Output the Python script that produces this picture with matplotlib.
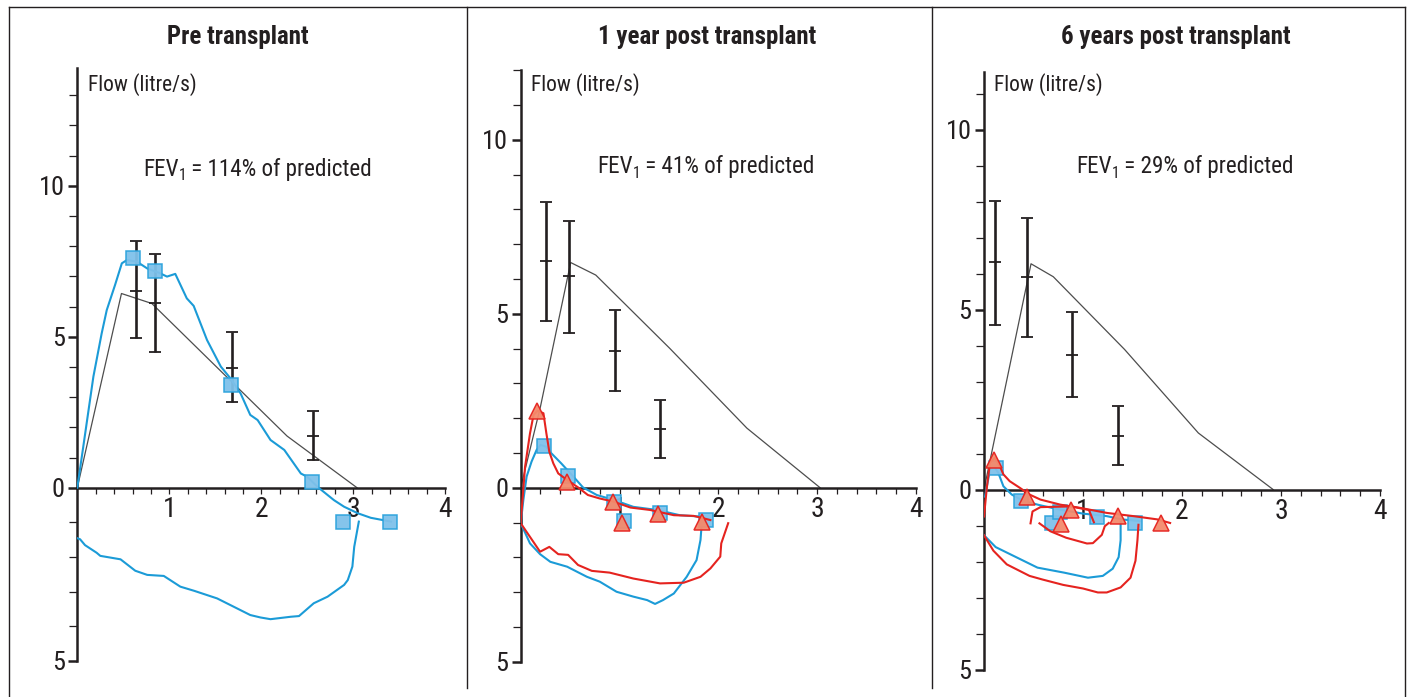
import os
import numpy as np
import matplotlib
matplotlib.use("Agg")
import matplotlib.pyplot as plt
from matplotlib import font_manager
from matplotlib.font_manager import FontProperties
from matplotlib.lines import Line2D
from matplotlib.ticker import FixedLocator

# ---------------- data ----------------
titles = ["Pre transplant", "1 year post transplant", "6 years post transplant"]
fev1_pct = [114, 41, 29]
x_tick_labels = ["1", "2", "3", "4"]
y_tick_values = [-5, 0, 5, 10]
y_tick_labels = ["5", "0", "5", "10"]

# Panel 1 (pre transplant)
p1_pred_vol = [0, 0.48, 0.81, 2.28, 3.04]
p1_pred_flow = [0, 6.43, 6.10, 1.71, 0.0]
p1_err_vol = [0.64, 0.84, 1.68, 2.56]
p1_err_mid = [6.52, 6.13, 3.96, 1.71]
p1_err_low = [4.96, 4.49, 2.85, 0.92]
p1_err_high = [8.18, 7.74, 5.15, 2.55]
p1_blue_exp_vol = [0, 0.065, 0.175, 0.265, 0.32, 0.41, 0.484, 0.54, 0.65, 0.76, 0.90, 0.975,
                   1.065, 1.19, 1.265, 1.41, 1.56, 1.665, 1.775, 1.88, 1.96, 2.10, 2.25, 2.43,
                   2.50, 2.61, 2.79, 2.90, 3.05, 3.19, 3.41]
p1_blue_exp_flow = [0, 1.36, 3.68, 5.11, 5.88, 6.71, 7.43, 7.54, 7.48, 7.26, 7.10, 6.99,
                    7.08, 6.27, 6.02, 4.89, 4.01, 3.62, 3.12, 2.41, 2.24, 1.58, 1.25, 0.47,
                    0.36, 0.03, -0.36, -0.55, -0.74, -0.87, -0.98]
p1_blue_insp_vol = [3.06, 3.01, 2.99, 2.94, 2.90, 2.72, 2.57, 2.41, 2.32, 2.10, 1.99, 1.88,
                    1.70, 1.52, 1.27, 1.12, 0.94, 0.76, 0.63, 0.47, 0.25, 0.21, 0.084, 0.03, 0]
p1_blue_insp_flow = [-0.98, -1.71, -2.28, -2.67, -2.81, -3.15, -3.34, -3.71, -3.73, -3.80,
                     -3.75, -3.68, -3.44, -3.20, -2.98, -2.86, -2.55, -2.52, -2.40, -2.07,
                     -1.97, -1.88, -1.66, -1.49, -1.46]
p1_sq_vol = [0.60, 0.84, 1.67, 2.55, 2.89, 3.40]
p1_sq_flow = [7.59, 7.19, 3.41, 0.18, -0.98, -0.98]

# Panel 2 (1 year post transplant)
p2_pred_vol = [0, 0.20, 0.506, 0.76, 1.51, 2.29, 3.03]
p2_pred_flow = [0, 2.33, 6.47, 6.11, 4.0, 1.71, 0]
p2_err_vol = [0.253, 0.49, 0.955, 1.413]
p2_err_mid = [6.51, 6.09, 3.94, 1.69]
p2_err_low = [4.79, 4.45, 2.78, 0.86]
p2_err_high = [8.21, 7.67, 5.10, 2.51]
p2_blue_exp_vol = [0, 0.027, 0.06, 0.11, 0.16, 0.20, 0.256, 0.31, 0.41, 0.52, 0.63, 0.77,
                   0.94, 1.14, 1.38, 1.61, 1.82, 1.92]
p2_blue_exp_flow = [-1.02, -0.35, 0.32, 0.75, 1.08, 1.23, 1.18, 0.99, 0.70, 0.36, 0.01, -0.21,
                    -0.35, -0.55, -0.64, -0.79, -0.83, -0.93]
p2_blue_insp_vol = [1.83, 1.82, 1.78, 1.68, 1.55, 1.44, 1.36, 1.28, 1.14, 0.97, 0.80, 0.67,
                    0.47, 0.30, 0.196, 0.094, 0]
p2_blue_insp_flow = [-1.12, -1.50, -2.08, -2.56, -3.04, -3.23, -3.34, -3.23, -3.13, -2.99,
                     -2.70, -2.56, -2.27, -2.13, -1.91, -1.60, -1.02]
p2_red_exp_vol = [0, 0.044, 0.094, 0.13, 0.17, 0.23, 0.26, 0.29, 0.33, 0.38, 0.47, 0.58,
                  0.68, 0.80, 0.94, 1.11, 1.31, 1.55, 1.75, 1.92]
p2_red_exp_flow = [-1.02, 0.6, 1.56, 2.09, 2.21, 2.14, 1.56, 1.03, 0.70, 0.41, 0.22, 0.01,
                   -0.21, -0.31, -0.40, -0.57, -0.64, -0.79, -0.81, -0.93]
p2_red_insp_vol = [2.10, 2.03, 2.02, 1.92, 1.82, 1.65, 1.41, 1.14, 0.90, 0.72, 0.58, 0.48,
                   0.38, 0.29, 0.196, 0]
p2_red_insp_flow = [-1.02, -1.60, -1.98, -2.32, -2.56, -2.73, -2.75, -2.61, -2.44, -2.39,
                    -2.22, -1.93, -1.91, -1.70, -1.84, -1.02]
p2_sq_vol = [0.24, 0.48, 0.94, 1.05, 1.41, 1.88]
p2_sq_flow = [1.21, 0.34, -0.40, -0.95, -0.72, -0.93]
p2_tri_vol = [0.17, 0.47, 0.93, 1.03, 1.39, 1.84]
p2_tri_flow = [2.21, 0.17, -0.40, -1.02, -0.76, -0.98]

# Panel 3 (6 years post transplant)
p3_pred_vol = [0, 0.475, 0.70, 1.42, 2.165, 2.92]
p3_pred_flow = [0, 6.27, 5.91, 3.89, 1.57, 0]
p3_err_vol = [0.111, 0.431, 0.892, 1.35]
p3_err_mid = [6.31, 5.90, 3.75, 1.48]
p3_err_low = [4.56, 4.24, 2.56, 0.67]
p3_err_high = [8.01, 7.53, 4.93, 2.33]
p3_blue_exp_vol = [0.01, 0.03, 0.06, 0.10, 0.145, 0.196, 0.28, 0.40, 0.57, 0.77, 1.0, 1.24,
                   1.39, 1.58]
p3_blue_exp_flow = [-0.2, 0.09, 0.56, 0.65, 0.46, 0.09, -0.14, -0.32, -0.44, -0.56, -0.67,
                    -0.74, -0.83, -0.88]
p3_blue_insp_vol = [1.38, 1.38, 1.36, 1.30, 1.20, 1.05, 0.81, 0.54, 0.34, 0.118, 0]
p3_blue_insp_flow = [-0.90, -1.41, -1.88, -2.20, -2.40, -2.45, -2.31, -2.17, -1.90, -1.60,
                     -1.27]
p3_red_exp_vol = [0, 0.03, 0.06, 0.11, 0.16, 0.196, 0.26, 0.36, 0.46, 0.57, 0.77, 0.97,
                  1.24, 1.51, 1.75, 1.88]
p3_red_exp_flow = [-0.75, 0.09, 0.74, 0.88, 0.65, 0.42, 0.23, 0.05, -0.14, -0.28, -0.42,
                   -0.51, -0.65, -0.74, -0.83, -0.93]
p3_red_insp_vol = [1.56, 1.55, 1.53, 1.48, 1.38, 1.24, 1.15, 1.0, 0.80, 0.59, 0.46, 0.23,
                   0.095, 0]
p3_red_insp_flow = [-0.98, -1.41, -1.98, -2.45, -2.72, -2.86, -2.86, -2.75, -2.65, -2.50,
                    -2.40, -2.08, -1.70, -1.27]
p3_red_loopa_vol = [0.47, 0.49, 0.57, 0.88, 1.06, 1.11]
p3_red_loopa_flow = [-0.94, -0.61, -0.49, -0.47, -0.57, -0.91]
p3_red_loopb_vol = [0.56, 0.67, 0.83, 1.04, 1.10, 1.19, 1.22, 1.26]
p3_red_loopb_flow = [-0.94, -1.16, -1.34, -1.50, -1.49, -1.26, -1.02, -0.93]
p3_sq_vol = [0.118, 0.37, 0.69, 0.77, 1.14, 1.53]
p3_sq_flow = [0.60, -0.32, -0.94, -0.63, -0.76, -0.94]
p3_tri_vol = [0.10, 0.43, 0.88, 0.78, 1.35, 1.79]
p3_tri_flow = [0.81, -0.20, -0.56, -0.95, -0.74, -0.94]

# ---------------- fonts ----------------
def find_condensed():
    files = [f.fname for f in font_manager.fontManager.ttflist]
    base = {os.path.basename(p): p for p in files}
    pairs = [
        ("LiberationSansNarrow-Regular", "LiberationSansNarrow-Bold"),
        ("RobotoCondensed-Regular", "RobotoCondensed-Bold"),
        ("NotoSans-Condensed.", "NotoSans-CondensedBold."),
        ("OpenSans-CondRegular", "OpenSans-CondBold"),
        ("DejaVuSansCondensed.", "DejaVuSansCondensed-Bold."),
    ]
    for reg, bold in pairs:
        r = [p for n, p in base.items() if n.startswith(reg)]
        b = [p for n, p in base.items() if n.startswith(bold)]
        if r:
            return r[0], (b[0] if b else r[0])
    return None, None


REG_FILE, BOLD_FILE = find_condensed()


def fp(size, bold=False):
    if REG_FILE:
        return FontProperties(fname=BOLD_FILE if bold else REG_FILE, size=size)
    return FontProperties(family=["Liberation Sans", "DejaVu Sans"],
                          weight="bold" if bold else "normal", size=size)


# ---------------- styling ----------------
W, H = 1412, 697
BLUE = "#1b9bd7"
RED = "#e5231f"
SQ_FACE = "#7fc1ea"
SQ_EDGE = "#2aa2dc"
TRI_FACE = "#f48a6c"
TRI_EDGE = "#e5231f"
GREY = "#4d4d4d"
BLACK = "#231f20"

fig = plt.figure(figsize=(W / 100, H / 100), dpi=100)
renderer = fig.canvas.get_renderer()


def text_width(s, prop):
    t = fig.text(0, 0, s, fontproperties=prop)
    w = t.get_window_extent(renderer=renderer).width
    t.remove()
    return w


# size factor so that the chosen font gets close to the reference text widths
ref_w = text_width("Flow (litre/s)", fp(16))
SCALE = float(np.clip(110.0 / ref_w, 0.80, 1.15))

# panel geometry (pixels): x origin, px/unit x, y origin, px/unit up, px/unit down, ymax
geoms = [
    (77.3, 92.0, 487.7, 30.2, 34.6, 13.9),
    (520.7, 98.8, 487.7, 34.8, 34.8, 12.0),
    (984.0, 99.0, 489.5, 36.0, 36.0, 11.6),
]


def make_axes(x0, xs, y0, up, down, ymax):
    left = x0
    right = x0 + 4 * xs
    top = y0 - ymax * up
    bottom = y0 + 5 * down
    ax = fig.add_axes([left / W, 1 - bottom / H, (right - left) / W, (bottom - top) / H])
    k = down / up
    ax.set_yscale("function",
                  functions=(lambda y: np.where(y >= 0, y, y * k),
                             lambda v: np.where(v >= 0, v, v / k)))
    ax.set_xlim(0, 4)
    ax.set_ylim(-5, ymax)
    ax.patch.set_alpha(0)
    for s in ("top", "right"):
        ax.spines[s].set_visible(False)
    ax.spines["left"].set_linewidth(1.8)
    ax.spines["left"].set_color(BLACK)
    ax.spines["left"].set_bounds(-5, ymax)
    ax.spines["bottom"].set_position(("data", 0))
    ax.spines["bottom"].set_linewidth(1.8)
    ax.spines["bottom"].set_color(BLACK)
    ax.spines["bottom"].set_bounds(0, 4)
    # y ticks
    ax.set_yticks(y_tick_values)
    ax.set_yticklabels(y_tick_labels, fontproperties=fp(19.5 * SCALE))
    minors = [v for v in range(-4, int(np.floor(ymax)) + 1) if v not in y_tick_values]
    ax.yaxis.set_minor_locator(FixedLocator(minors))
    ax.tick_params(axis="y", which="major", direction="out", length=6.5, width=1.8,
                   color=BLACK, pad=2.5, labelcolor=BLACK)
    ax.tick_params(axis="y", which="minor", direction="out", length=6.0, width=0.9,
                   color=BLACK)
    # x ticks
    ax.set_xticks([1, 2, 3, 4])
    ax.set_xticklabels(x_tick_labels, fontproperties=fp(20.5 * SCALE))
    xm = [round(v, 1) for v in np.arange(0.2, 4.01, 0.2) if abs(v - round(v)) > 1e-6]
    ax.xaxis.set_minor_locator(FixedLocator(xm))
    ax.tick_params(axis="x", which="both", direction="out", length=4.5, width=0.9,
                   color=BLACK, pad=1.5, labelcolor=BLACK)
    return ax


def draw_errbars(ax, vol, mid, low, high):
    vol = np.asarray(vol)
    mid = np.asarray(mid)
    yerr = [mid - np.asarray(low), np.asarray(high) - mid]
    ax.errorbar(vol, mid, yerr=yerr, fmt="_", color=BLACK, ecolor=BLACK, elinewidth=1.9,
                capsize=4.0, capthick=1.9, markersize=8, markeredgewidth=1.3, zorder=3)


def squares(ax, v, f):
    ax.plot(v, f, "s", ms=10, mfc=SQ_FACE, mec=SQ_EDGE, mew=1.1, ls="none", zorder=5,
            alpha=0.95)


def triangles(ax, v, f):
    ax.plot(v, f, "^", ms=11, mfc=TRI_FACE, mec=TRI_EDGE, mew=1.1, ls="none", zorder=6,
            alpha=0.95)


axes = [make_axes(*g) for g in geoms]
LW = 1.5

# Panel 1
ax = axes[0]
ax.plot(p1_pred_vol, p1_pred_flow, color=GREY, lw=0.9, zorder=2)
draw_errbars(ax, p1_err_vol, p1_err_mid, p1_err_low, p1_err_high)
ax.plot(p1_blue_exp_vol, p1_blue_exp_flow, color=BLUE, lw=LW, zorder=4)
ax.plot(p1_blue_insp_vol, p1_blue_insp_flow, color=BLUE, lw=LW, zorder=4)
squares(ax, p1_sq_vol, p1_sq_flow)

# Panel 2
ax = axes[1]
ax.plot(p2_pred_vol, p2_pred_flow, color=GREY, lw=0.9, zorder=2)
draw_errbars(ax, p2_err_vol, p2_err_mid, p2_err_low, p2_err_high)
ax.plot(p2_blue_exp_vol, p2_blue_exp_flow, color=BLUE, lw=LW, zorder=4)
ax.plot(p2_blue_insp_vol, p2_blue_insp_flow, color=BLUE, lw=LW, zorder=4)
squares(ax, p2_sq_vol, p2_sq_flow)
ax.plot(p2_red_exp_vol, p2_red_exp_flow, color=RED, lw=LW, zorder=5.5)
ax.plot(p2_red_insp_vol, p2_red_insp_flow, color=RED, lw=LW, zorder=5.5)
triangles(ax, p2_tri_vol, p2_tri_flow)

# Panel 3
ax = axes[2]
ax.plot(p3_pred_vol, p3_pred_flow, color=GREY, lw=0.9, zorder=2)
draw_errbars(ax, p3_err_vol, p3_err_mid, p3_err_low, p3_err_high)
ax.plot(p3_blue_exp_vol, p3_blue_exp_flow, color=BLUE, lw=LW, zorder=4)
ax.plot(p3_blue_insp_vol, p3_blue_insp_flow, color=BLUE, lw=LW, zorder=4)
squares(ax, p3_sq_vol, p3_sq_flow)
for v, f in [(p3_red_exp_vol, p3_red_exp_flow), (p3_red_insp_vol, p3_red_insp_flow),
             (p3_red_loopa_vol, p3_red_loopa_flow), (p3_red_loopb_vol, p3_red_loopb_flow)]:
    ax.plot(v, f, color=RED, lw=LW, zorder=5.5)
triangles(ax, p3_tri_vol, p3_tri_flow)


def ftext(px, py, s, prop, ha="left"):
    return fig.text(px / W, 1 - py / H, s, fontproperties=prop, ha=ha, va="baseline",
                    color=BLACK)


# "Flow (litre/s)" labels (left x, baseline y in pixels)
flow_px = [(88, 90.5), (531, 90.5), (994, 90.5)]
for (px, py) in flow_px:
    ftext(px, py, "Flow (litre/s)", fp(16 * SCALE))

# FEV1 labels with subscript (centre x, baseline y in pixels)
fev_px = [(257.5, 176), (706, 173), (1185, 173)]
for (cx, by), pct in zip(fev_px, fev1_pct):
    main = fp(17.2 * SCALE)
    sub = fp(11.5 * SCALE)
    parts = [("FEV", main, 0), ("1", sub, 4.5), (f" = {pct}% of predicted", main, 0)]
    widths = [text_width(s, p) for s, p, _ in parts]
    x = cx - sum(widths) / 2
    for (s, p, dy), w in zip(parts, widths):
        ftext(x, by + dy, s, p)
        x += w

# Titles (centre x, baseline y in pixels)
title_px = [(238, 44), (707, 44), (1176, 44)]
for (tx, ty), t in zip(title_px, titles):
    ftext(tx, ty, t, fp(18.5 * SCALE, bold=True), ha="center")

# Frame
frame = [((8.5, 7), (8.5, 697)), ((8.5, 7), (1405, 7)), ((1405, 7), (1405, 697)),
         ((466.5, 7), (466.5, 688)), ((932, 7), (932, 688))]
for (xa, ya), (xb, yb) in frame:
    fig.add_artist(Line2D([xa / W, xb / W], [1 - ya / H, 1 - yb / H], color=BLACK, lw=1.0,
                          transform=fig.transFigure))

fig.savefig("out.png", dpi=100)
